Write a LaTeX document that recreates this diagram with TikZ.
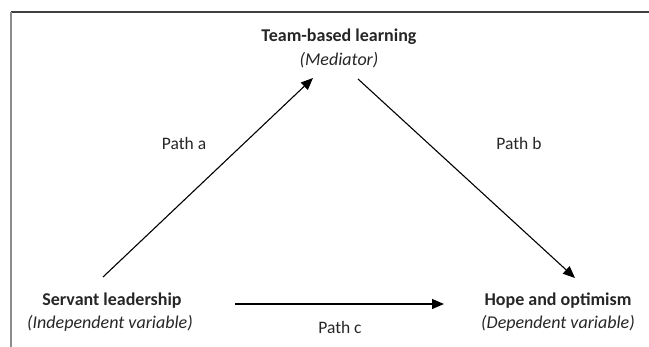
\documentclass[tikz,border=0pt]{standalone}
\usepackage{fontspec}
\setmainfont{Carlito}
\usetikzlibrary{arrows.meta}
\begin{document}
\begin{tikzpicture}[x=1pt,y=-1pt,
  every node/.style={inner sep=0pt, text=black!85, font=\fontsize{18}{21}\selectfont},
  varname/.style={font=\fontsize{18}{21}\selectfont\bfseries},
  varrole/.style={font=\fontsize{18}{21}\selectfont\itshape},
  pathlbl/.style={font=\fontsize{17.5}{20}\selectfont},
  link/.style={line width=1.1pt, -{Triangle[length=12pt,width=10pt]}}]
  \useasboundingbox (0,0) rectangle (649,347);
  % frame lines
  \draw[line width=1.2pt, black!75] (11,12) -- (649,12);
  \draw[line width=1.2pt, black!45] (11,12) -- (11,347);

  % variables
  \node[varname] (med) at (339,37) {Team-based learning};
  \node[varrole] (medr) at (339,60) {(Mediator)};
  \node[varname] (iv) at (112,301) {Servant leadership};
  \node[varrole] (ivr) at (110,323) {(Independent variable)};
  \node[varname] (dv) at (558,301) {Hope and optimism};
  \node[varrole] (dvr) at (558,323) {(Dependent variable)};

  % connector end points
  \coordinate (aS) at (103,277);
  \coordinate (aE) at (313,78);
  \coordinate (bS) at (358,79);
  \coordinate (bE) at (575,278);
  \coordinate (cS) at (235,304);
  \coordinate (cE) at (444,304);

  \draw[link] (aS) -- (aE);
  \draw[link] (bS) -- (bE);
  \draw[link] (cS) -- (cE);

  % path labels
  \node[pathlbl] (la) at (184,143) {Path a};
  \node[pathlbl] (lb) at (519,143) {Path b};
  \node[pathlbl] (lc) at (340,327) {Path c};
\end{tikzpicture}
\end{document}
